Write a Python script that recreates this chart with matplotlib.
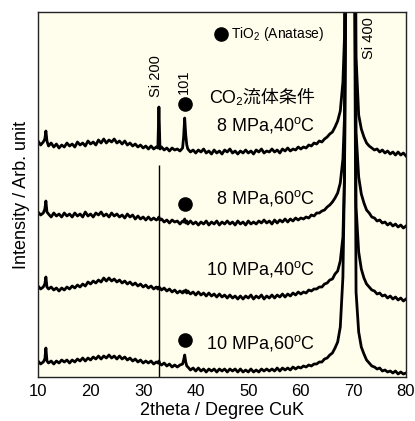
import numpy as np
import matplotlib
matplotlib.use("Agg")
import matplotlib.pyplot as plt

plt.rcParams['font.family'] = ['Liberation Sans', 'Noto Sans CJK JP', 'DejaVu Sans']
plt.rcParams['mathtext.fontset'] = 'custom'
plt.rcParams['mathtext.rm'] = 'Liberation Sans'
plt.rcParams['mathtext.it'] = 'Liberation Sans:italic'

# 2theta grid (deg), shared by all four patterns
two_theta = [10, 10.5, 11,
             11.3, 11.5, 11.7,
             12, 12.5, 13, 13.5, 14, 14.5, 15, 15.5, 16, 16.5,
             17, 17.5, 18, 18.5, 19, 19.5, 20, 20.5, 21, 21.5,
             22, 22.5, 23, 23.5, 24, 24.5, 25, 25.5, 26, 26.5,
             27, 27.5, 28, 28.5, 29, 29.5, 30, 30.5, 31, 31.5,
             32, 32.5,
             32.8, 33.0, 33.2,
             33.5, 34, 34.5, 35, 35.5, 36, 36.5, 37, 37.5,
             37.7, 37.9, 38.1, 38.3,
             38.5, 39, 39.5, 40, 40.5, 41, 41.5, 42, 42.5, 43,
             43.5, 44, 44.5, 45, 45.5, 46, 46.5, 47, 47.5, 48,
             48.5, 49, 49.5, 50, 50.5, 51, 51.5, 52, 52.5, 53,
             53.5, 54, 54.5, 55, 55.5, 56, 56.5, 57, 57.5, 58,
             58.5, 59, 59.5, 60, 60.5, 61, 61.5, 62, 62.5, 63,
             63.5, 64, 64.5, 65, 65.5, 66, 66.5, 67, 67.5, 68,
             68.3, 68.6, 68.9, 69.4, 69.9, 70.2, 70.5,
             71, 71.5, 72, 72.5, 73, 73.5, 74, 74.5, 75, 75.5,
             76, 76.5, 77, 77.5, 78, 78.5, 79, 79.5, 80]

# intensity (arb. unit, already offset)
i_8mpa_40c = [236, 232, 235,
              238, 246, 236,
              231, 234, 230, 233, 229, 232, 230, 234, 231, 233,
              230, 235, 232, 234, 231, 236, 233, 235, 232, 237,
              234, 238, 234, 237, 235, 238, 234, 236, 233, 236,
              232, 234, 231, 233, 230, 232, 229, 231, 228, 231,
              228, 230,
              229, 270, 228,
              230, 227, 229, 226, 229, 227, 228, 226, 229,
              240, 259, 242, 232,
              228, 225, 227, 224, 227, 225, 228, 224, 226, 223,
              227, 224, 226, 223, 227, 225, 228, 224, 226, 223,
              226, 224, 227, 224, 226, 223, 227, 225, 228, 224,
              226, 225, 228, 225, 227, 224, 228, 226, 229, 226,
              228, 227, 230, 228, 230, 229, 232, 231, 234, 233,
              236, 235, 238, 240, 243, 245, 250, 256, 266, 295,
              340, 650, 900, 1000, 900, 650, 320,
              262, 248, 240, 234, 231, 229, 227, 228, 225, 227,
              224, 226, 223, 225, 222, 225, 222, 224, 221]

i_8mpa_60c = [165, 162, 164,
              168, 176, 165,
              163, 160, 164, 161, 163, 160, 164, 161, 163, 160,
              164, 161, 163, 160, 165, 161, 163, 160, 164, 162,
              165, 161, 163, 160, 164, 161, 163, 160, 162, 159,
              163, 160, 162, 158, 161, 158, 160, 157, 160, 157,
              159, 157,
              158, 160, 157,
              158, 155, 157, 154, 157, 155, 156, 153, 156,
              155, 158, 154, 156,
              153, 156, 153, 155, 152, 155, 153, 156, 152, 155,
              153, 156, 152, 155, 153, 156, 153, 155, 152, 156,
              153, 155, 152, 156, 153, 155, 153, 156, 154, 157,
              154, 156, 153, 157, 154, 157, 155, 158, 155, 158,
              156, 159, 157, 159, 158, 160, 159, 162, 161, 164,
              164, 166, 167, 170, 172, 175, 179, 184, 194, 218,
              260, 560, 850, 1000, 850, 560, 245,
              200, 183, 174, 167, 164, 160, 159, 156, 157, 154,
              155, 152, 154, 151, 153, 150, 152, 149, 151]

i_10mpa_40c = [91, 88, 90,
               93, 100, 90,
               88, 90, 87, 89, 86, 89, 87, 90, 88, 91,
               89, 92, 90, 93, 91, 95, 93, 96, 94, 97,
               95, 99, 96, 99, 96, 98, 95, 97, 94, 96,
               93, 95, 92, 94, 91, 93, 90, 92, 89, 91,
               88, 90,
               88, 90, 89,
               87, 89, 86, 88, 85, 87, 84, 86, 84,
               86, 85, 87, 84,
               86, 83, 85, 82, 85, 82, 84, 81, 84, 81,
               83, 80, 83, 80, 82, 79, 82, 79, 81, 78,
               81, 78, 81, 79, 82, 78, 81, 79, 82, 78,
               81, 79, 82, 79, 82, 80, 83, 80, 83, 81,
               84, 82, 85, 83, 85, 84, 87, 86, 88, 88,
               90, 90, 93, 94, 97, 98, 103, 106, 116, 140,
               200, 490, 800, 1000, 800, 490, 170,
               125, 108, 99, 93, 90, 87, 86, 83, 84, 81,
               82, 79, 81, 78, 80, 77, 79, 76, 78]

i_10mpa_60c = [16, 13, 15,
               18, 29, 16,
               14, 16, 13, 16, 14, 17, 15, 17, 14, 17,
               15, 18, 16, 19, 16, 19, 17, 20, 18, 21,
               18, 21, 19, 22, 19, 21, 18, 21, 18, 20,
               17, 19, 16, 18, 15, 17, 14, 16, 14, 16,
               13, 15,
               14, 16, 13,
               12, 14, 11, 13, 10, 12, 10, 12, 13,
               17, 22, 15, 11,
               10, 7, 9, 6, 9, 6, 8, 5, 8, 6,
               8, 5, 8, 6, 8, 5, 8, 6, 8, 5,
               8, 5, 7, 5, 8, 5, 7, 5, 8, 6,
               8, 6, 8, 6, 9, 6, 9, 7, 9, 7,
               10, 8, 10, 9, 11, 10, 12, 11, 13, 13,
               15, 15, 18, 19, 22, 24, 29, 35, 50, 100,
               200, 420, 750, 1000, 750, 420, 85,
               45, 30, 23, 17, 14, 11, 10, 8, 9, 6,
               7, 5, 6, 4, 6, 3, 5, 3, 4]

patterns = [i_8mpa_40c, i_8mpa_60c, i_10mpa_40c, i_10mpa_60c]
conditions = ['8 MPa,40$^{\\rm o}$C', '8 MPa,60$^{\\rm o}$C',
              '10 MPa,40$^{\\rm o}$C', '10 MPa,60$^{\\rm o}$C']
label_y = [252, 179, 108, 34]

si200_pos = 33.0
si200_top = 212
anatase_pos = 37.9
anatase_marks = [273, 173, 37]

fig = plt.figure(figsize=(4.15, 4.21), dpi=100)
ax = fig.add_axes([0.0916, 0.1045, 0.8867, 0.867])
ax.set_facecolor('#fffdec')

for y in patterns:
    ax.plot(two_theta, y, color='black', lw=2.0)
ax.vlines(si200_pos, 0, si200_top, color='black', lw=1.0)

ax.plot([anatase_pos] * len(anatase_marks), anatase_marks, 'o',
        color='black', ms=9.5)
ax.plot([44.9], [343], 'o', color='black', ms=9.5)
ax.text(46.8, 343, 'TiO$_2$ (Anatase)', fontsize=10, va='center')

ax.text(32.5, 301, 'Si 200', rotation=90, fontsize=10.5, ha='center', va='center')
ax.text(37.7, 295, '101', rotation=90, fontsize=10.5, ha='center', va='center')
ax.text(73.0, 339, 'Si 400', rotation=90, fontsize=10.5, ha='center', va='center')

ax.text(62.6, 279, 'CO\u2082流体条件', fontsize=13, ha='right', va='center')
for txt, yy in zip(conditions, label_y):
    ax.text(62.6, yy, txt, fontsize=13, ha='right', va='center')

ax.set_xlim(10, 80)
ax.set_ylim(0, 365)
ax.set_xticks([10, 20, 30, 40, 50, 60, 70, 80])
ax.set_yticks([])
ax.tick_params(axis='x', length=0, pad=5, labelsize=12)
for s in ax.spines.values():
    s.set_linewidth(1.0)
    s.set_color('#222222')
ax.set_xlabel('2theta / Degree CuK', fontsize=13, labelpad=2)
ax.set_ylabel('Intensity / Arb. unit', fontsize=13, labelpad=6)

fig.savefig('out.png', dpi=100)
